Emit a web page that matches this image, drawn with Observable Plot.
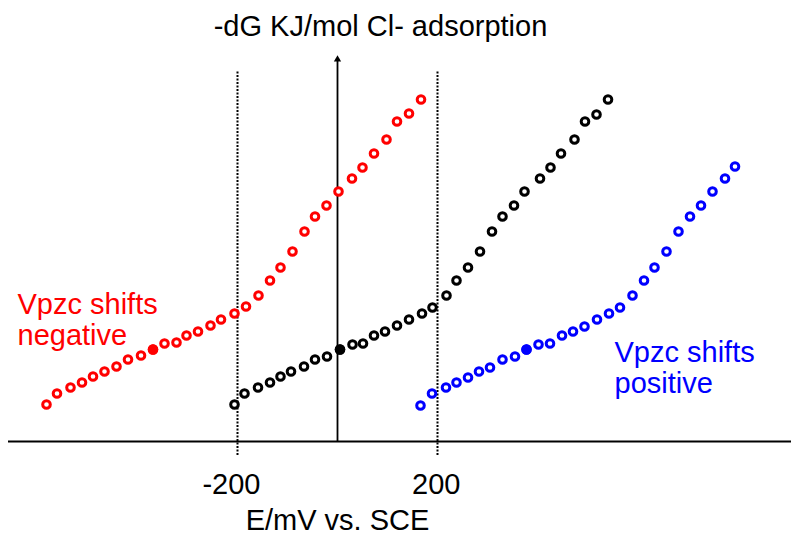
<!DOCTYPE html>
<html>
<head>
<meta charset="utf-8">
<script src="https://cdn.jsdelivr.net/npm/d3@7"></script>
<script src="https://cdn.jsdelivr.net/npm/@observablehq/plot@0.6"></script>
<style>
  body { margin: 0; background: #fff; font-family: "Liberation Sans", Arial, sans-serif; }
  #title { height: 50px; box-sizing: border-box; padding-top: 12px; line-height: 29px; font-size: 29px;
           width: 791px; text-align: center; padding-right: 30px; color: #000; white-space: nowrap; }
</style>
</head>
<body>
<div id="title"></div>
<div id="chart"></div>
<script>
// Titles / labels
const titleText = "-dG KJ/mol Cl- adsorption";
const xLabel = "E/mV vs. SCE";
const tickValues = [-200, 200];
const tickLabels = ["-200", "200"];
const negLabel = "Vpzc shifts\nnegative";
const posLabel = "Vpzc shifts\npositive";

// Series: E (mV vs SCE) and -dG (arbitrary units)
const redX = [-582,-561,-534,-511,-489,-466,-442,-419,-393,-369,-346,-322,-302,-279,-254,-233,-206,-183,-158,-135,-114,-90,-66,-45,-22,2,29,50,73,98,119,143,167];
const redY = [3.7,4.8,5.4,5.9,6.5,7.0,7.5,8.2,8.6,9.2,9.8,9.9,10.6,11.0,11.6,12.2,12.8,13.5,14.6,16.1,17.4,19.0,21.0,22.5,23.6,25.0,26.3,27.4,28.8,30.2,32.0,32.8,34.2];

const blackX = [-206,-186,-159,-135,-114,-93,-67,-45,-21,5,30,51,73,95,119,143,169,190,218,238,261,285,309,330,353,374,405,426,447,474,495,518,541];
const blackY = [3.7,4.8,5.4,5.9,6.5,7.0,7.5,8.2,8.5,9.2,9.7,9.8,10.6,11.0,11.6,12.2,12.8,13.4,14.6,16.1,17.4,19.0,21.0,22.5,23.6,25.0,26.3,27.4,28.8,30.2,32.0,32.7,34.2];

const blueX = [166,189,217,238,261,283,305,330,355,378,402,425,449,471,494,519,543,565,590,613,634,658,682,705,727,750,775,795];
const blueY = [3.6,4.8,5.4,5.9,6.4,7.0,7.4,8.2,8.5,9.2,9.7,9.8,10.6,11.0,11.5,12.2,12.8,13.4,14.6,16.1,17.4,19.0,21.0,22.5,23.6,25.0,26.3,27.5];

// index of the solid (filled) point in each series
const filledIndex = 9;

const series = [
  {name: "negative", color: "#ff0000", xs: redX, ys: redY},
  {name: "reference", color: "#000000", xs: blackX, ys: blackY},
  {name: "positive", color: "#0000ff", xs: blueX, ys: blueY}
];
const points = series.flatMap(s => s.xs.map((x, i) => ({series: s.name, color: s.color, x, y: s.ys[i], filled: i === filledIndex})));

document.getElementById("title").textContent = titleText;

const font = "Liberation Sans, Arial, sans-serif";
const chart = Plot.plot({
  width: 791,
  height: 486,
  marginLeft: 0,
  marginRight: 0,
  marginTop: 1,
  marginBottom: 95,
  x: {domain: [-674, 908], axis: null},
  y: {domain: [0, 39], axis: null},
  style: {fontFamily: font, background: "white"},
  marks: [
    Plot.ruleY([0], {x1: -658, x2: 908, stroke: "black", strokeWidth: 2}),
    Plot.ruleX(tickValues, {x: d => d, y1: -1.4, y2: 37.1, stroke: "black", strokeWidth: 2, strokeDasharray: "2,1.5"}),
    Plot.ruleX([0], {x: d => d, y1: 0, y2: 38, stroke: "black", strokeWidth: 1.8}),
    Plot.dot([0], {x: d => d, y: 38.2, symbol: "triangle", r: 2.7, fill: "black", stroke: "none"}),
    Plot.dot(points, {x: "x", y: "y", r: 3.8, stroke: d => d.color, fill: "white", strokeWidth: 3}),
    Plot.dot(points.filter(d => d.filled), {x: "x", y: "y", r: 5.2, fill: d => d.color, stroke: "none"}),
    Plot.text(tickValues, {x: d => d, text: (d, i) => tickLabels[i], frameAnchor: "bottom", lineAnchor: "top", dy: 32, dx: 23, textAnchor: "end", fontSize: 29, fill: "black"}),
    Plot.text([xLabel], {x: () => 0, text: d => d, frameAnchor: "bottom", lineAnchor: "top", dy: 68, fontSize: 29, fill: "black"}),
    Plot.text([negLabel], {x: -640, y: 15.0, text: d => d, textAnchor: "start", lineAnchor: "top", lineHeight: 1.07, fontSize: 29, fill: "#ff0000"}),
    Plot.text([posLabel], {x: 554, y: 10.2, text: d => d, textAnchor: "start", lineAnchor: "top", lineHeight: 1.07, fontSize: 29, fill: "#0000ff"})
  ]
});
document.getElementById("chart").appendChild(chart);
</script>
</body>
</html>
